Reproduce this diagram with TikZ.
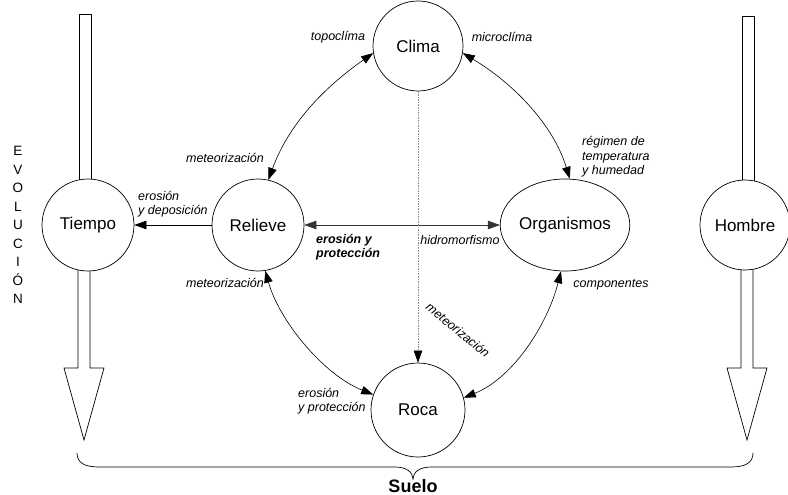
\documentclass[tikz,border=0pt]{standalone}
\usepackage{fontspec}
\setmainfont{Liberation Sans}
\usetikzlibrary{arrows.meta,shapes.geometric}

\begin{document}
\begin{tikzpicture}[x=1pt,y=-1pt,
  factor/.style={circle,draw,line width=0.7pt,fill=white,inner sep=0pt,
    font=\fontsize{17}{20}\selectfont},
  lbl/.style={font=\fontsize{12.5}{14.5}\selectfont\itshape,inner sep=0pt,align=left},
  blbl/.style={font=\fontsize{12.5}{14.5}\selectfont\bfseries\itshape,inner sep=0pt,align=left},
  head/.tip={Triangle[length=12pt,width=8.5pt]},
  oneway/.style={line width=0.6pt,-head},
  twoway/.style={line width=0.6pt,head-head},
  faint/.style={line width=0.6pt,black!45,dash pattern=on 1.6pt off 1pt,
    -{Triangle[length=12pt,width=8.5pt,color=black]}},
  blockline/.style={line width=0.7pt,line join=miter},
  bracepath/.style={line width=0.7pt},
]
\useasboundingbox (0,0) rectangle (788,495);

% hollow block arrows (time and man), drawn first so the circles cover their ends
\draw[blockline] (79,225) -- (79,14) -- (91,14) -- (91,225);
\draw[blockline] (78,225) -- (78,368) -- (64,368) -- (84,440) -- (104,368) -- (90,368) -- (90,225);
\draw[blockline] (742,225) -- (742,16) -- (754,16) -- (754,225);
\draw[blockline] (741,225) -- (741,368) -- (727,368) -- (747,440) -- (767,368) -- (753,368) -- (753,225);

% soil-forming factors
\node[factor,minimum size=92pt] (tiempo) at (88,225) {Tiempo};
\node[factor,minimum size=92pt] (relieve) at (258,225) {Relieve};
\node[factor,minimum size=90pt] (clima) at (418,46) {Clima};
\node[factor,ellipse,minimum width=120pt,minimum height=92pt] (organismos) at (565,225) {Organismos};
\node[factor,minimum size=94pt] (roca) at (418,410) {Roca};
\node[factor,minimum size=90pt] (hombre) at (745,225) {Hombre};

% vertical title
\node[font=\fontsize{13.5}{18.5}\selectfont,align=center,inner sep=0pt] (evol) at (18,225)
  {E\\V\\O\\L\\U\\C\\I\\Ó\\N};

% interactions
\draw[oneway] (relieve.west) -- (tiempo.east);
\draw[twoway,black!80] (relieve.east) -- (organismos.west);
\draw[faint] (clima.south) -- (roca.north);
\draw[twoway] (clima.189) .. controls +(-50,35) and +(20,-55) .. (relieve.77);
\draw[twoway] (clima.351) .. controls +(50,30) and +(-17,-55) .. (organismos.84);
\draw[twoway] (relieve.279) .. controls +(14,50) and +(-50,-20) .. (roca.161);
\draw[twoway] (organismos.265) .. controls +(-13,52) and +(50,-20) .. (roca.15);

% labels
\node[lbl] (lTopo) at (338,37) {topoclíma};
\node[lbl] (lMicro) at (502,37) {microclíma};
\node[lbl] (lMeteoA) at (225,158) {meteorización};
\node[lbl,anchor=west] (lErosDep) at (138,204) {erosión\\y deposición};
\node[lbl,anchor=west] (lRegimen) at (582,157) {régimen de\\temperatura\\y humedad};
\node[blbl,anchor=west] (lErosProtA) at (316,247) {erosión y\\protección};
\node[lbl] (lHidro) at (460,240) {hidromorfismo};
\node[lbl] (lMeteoB) at (225,283) {meteorización};
\node[lbl,anchor=west] (lErosProtB) at (298,401) {erosión\\y protección};
\node[lbl,rotate=-39.5] (lMeteoC) at (458,330) {meteorización};
\node[lbl] (lComp) at (611,285) {componentes};

% the soil brace
\coordinate (bL) at (77,453);
\coordinate (bTip) at (413,479);
\coordinate (bR) at (753,453);
\draw[bracepath] (bL) .. controls (77,463) and (85,467) .. (99,467) -- (395,467)
  .. controls (406,467) and (413,472) .. (bTip)
  .. controls (413,472) and (420,467) .. (431,467) -- (731,467)
  .. controls (745,467) and (753,463) .. (bR);
\node[font=\fontsize{18}{20}\selectfont\bfseries,anchor=base,inner sep=0pt] (suelo) at (413,492) {Suelo};

\end{tikzpicture}
\end{document}
